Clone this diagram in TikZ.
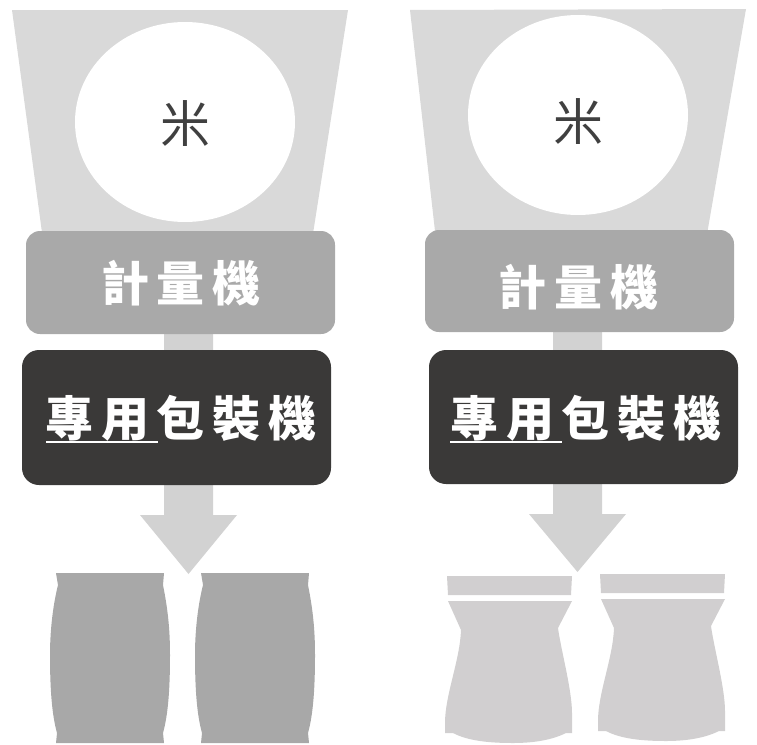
\documentclass[tikz,border=0pt]{standalone}
\usepackage{fontspec}
\newfontfamily\cjkbold{Noto Sans CJK TC Black}
\newfontfamily\cjkregular{Noto Sans CJK TC}
\definecolor{hoppergray}{HTML}{D9D9D9}
\definecolor{scalegray}{HTML}{A9A9A9}
\definecolor{packerdark}{HTML}{3A3938}
\definecolor{arrowgray}{HTML}{D2D2D2}
\definecolor{bagdark}{HTML}{A8A8A8}
\definecolor{baglight}{HTML}{D1CFD0}
\tikzset{
  scalebox/.style={fill=scalegray, rounded corners=14pt, inner sep=0pt, minimum width=309pt},
  packerbox/.style={fill=packerdark, rounded corners=17pt, inner sep=0pt, minimum width=309pt},
  ricetext/.style={font=\cjkregular\fontsize{50}{50}\selectfont, text=black!75},
  boxtext/.style={font=\cjkbold\fontsize{48}{48}\selectfont, text=white, inner sep=0pt},
}
\newcommand{\gap}{\hspace{7.7pt}}
\begin{document}
\begin{tikzpicture}[x=1pt, y=-1pt]
    \useasboundingbox (0,0) rectangle (757,744);
    % left line
    \fill[hoppergray] (12,10) -- (348,10) -- (312,240) -- (43,240) -- cycle;
    \fill[white] (185,122) ellipse (110 and 100);
    \node[ricetext] (riceL) at (185,123.5) {米};
    \fill[arrowgray] (164,330) -- (213,330) -- (213,515) -- (237,515) -- (188.5,574) -- (140,515) -- (164,515) -- cycle;
    \node[scalebox, minimum height=103pt] (scaleL) at (180.5,282.5) {};
    \node[packerbox, minimum height=135pt] (packerL) at (176.5,417.5) {};
    \node[boxtext] (scaletextL) at (181,283) {計\gap 量\gap 機};
    \node[boxtext] (packertextL) at (181,418.5) {專\gap 用\gap 包\gap 裝\gap 機};
    \coordinate (ulineLa) at (46,442);
    \coordinate (ulineLb) at (158,442);
    \draw[white, line width=1.5pt] (ulineLa) -- (ulineLb);
    \foreach \dx in {0,145} {
        \fill[bagdark, shift={(\dx,0)}] (56,573) -- (164,573) -- (163,585)
            .. controls (168,610) and (170,630) .. (170,655)
            .. controls (170,690) and (168,715) .. (163,733) -- (164,743) -- (56,743) -- (57,733)
            .. controls (52,715) and (50,690) .. (50,655)
            .. controls (50,630) and (53,605) .. (58,585) -- cycle;
    }
    % right line
    \fill[hoppergray] (410,10) -- (746,9) -- (706,240) -- (436,240) -- cycle;
    \fill[white] (578,115) ellipse (110 and 100);
    \node[ricetext] (riceR) at (578,122) {米};
    \fill[arrowgray] (553,328) -- (602,328) -- (602,514) -- (626,514) -- (577.5,572) -- (529,514) -- (553,514) -- cycle;
    \node[scalebox, minimum height=102pt] (scaleR) at (579.5,281) {};
    \node[packerbox, minimum height=134pt] (packerR) at (583.5,417) {};
    \node[boxtext] (scaletextR) at (578.5,287) {計\gap 量\gap 機};
    \node[boxtext] (packertextR) at (586,418.5) {專\gap 用\gap 包\gap 裝\gap 機};
    \coordinate (ulineRa) at (450,442);
    \coordinate (ulineRb) at (562,442);
    \draw[white, line width=1.5pt] (ulineRa) -- (ulineRb);
    \foreach \dx/\dy in {0/0,153/-2} {
        \fill[baglight, shift={(\dx,\dy)}] (447,576) -- (572,576) -- (571,595) -- (448,595) -- cycle;
        \fill[baglight, shift={(\dx,\dy)}] (448,601) -- (572,601) -- (558,628)
            .. controls (561,650) and (572,690) .. (572,713) -- (572,733) -- (566,733)
            .. controls (550,741) and (530,743) .. (513,743)
            .. controls (490,743) and (468,741) .. (453,733) -- (445,733) -- (445,723)
            .. controls (445,695) and (460,660) .. (461,630) -- cycle;
    }
\end{tikzpicture}
\end{document}
